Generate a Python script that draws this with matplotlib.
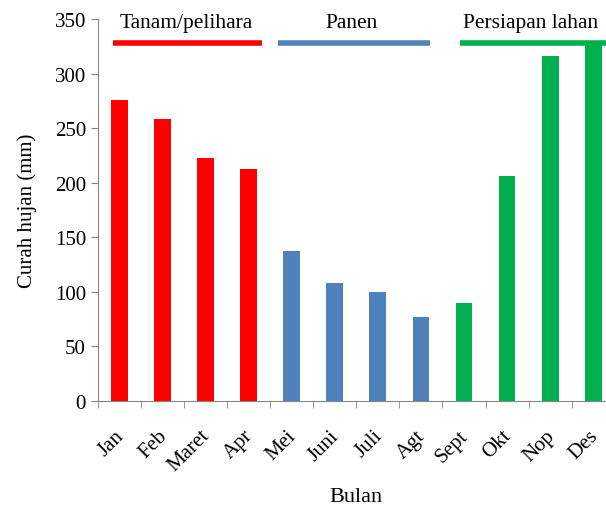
import matplotlib
matplotlib.use('Agg')
import matplotlib.pyplot as plt
import numpy as np

months = ['Jan', 'Feb', 'Maret', 'Apr', 'Mei', 'Juni', 'Juli', 'Agt',
          'Sept', 'Okt', 'Nop', 'Des']
rain = [276, 258, 223, 213, 137, 108, 100, 77, 90, 206, 316, 330]
colors = ['#ff0000'] * 4 + ['#4f81bd'] * 4 + ['#00b050'] * 4

phases = ['Tanam/pelihara', 'Panen', 'Persiapan lahan']
phase_start = [-0.15, 3.68, 7.91]
phase_end = [3.31, 7.21, 11.6]
phase_colors = ['#ff0000', '#4f81bd', '#00b050']
phase_text_x = [1.55, 5.4, 9.55]
phase_level = 328
label_level = 347

plt.rcParams['font.family'] = ['Liberation Serif', 'DejaVu Serif']

fig = plt.figure(figsize=(6.06, 5.10), dpi=100)
ax = fig.add_axes([97.8 / 606, 108 / 510, 517 / 606, 382 / 510])

x = np.arange(len(months))
ax.bar(x, rain, width=0.39, color=colors, zorder=2)

for s, e, c in zip(phase_start, phase_end, phase_colors):
    ax.plot([s, e], [phase_level, phase_level], color=c, lw=4,
            solid_capstyle='butt', clip_on=False, zorder=3)

for name, tx in zip(phases, phase_text_x):
    ax.text(tx, label_level, name, ha='center', va='center', fontsize=15.5)

ax.set_xlim(-0.5, 11.5)
ax.set_ylim(0, 350)
ax.set_yticks(range(0, 351, 50))
# label anchors sit slightly left of bar centres (tick length is 0)
ax.set_xticks(x - 0.12)
ax.set_xticklabels(months, rotation=45, ha='right', rotation_mode='anchor',
                   fontsize=15)
ax.set_xticks(np.arange(-0.5, 12, 1), minor=True)
ax.tick_params(axis='x', which='major', length=0, pad=18)
ax.tick_params(axis='x', which='minor', length=5, color='#868686')
ax.tick_params(axis='y', length=5, color='#868686', labelsize=15)

for side in ['top', 'right']:
    ax.spines[side].set_visible(False)
for side in ['left', 'bottom']:
    ax.spines[side].set_color('#868686')

ax.set_ylabel('Curah hujan (mm)', fontsize=15, labelpad=13)
ax.set_xlabel('Bulan', fontsize=16, labelpad=9)

fig.savefig('out.png', dpi=100)
